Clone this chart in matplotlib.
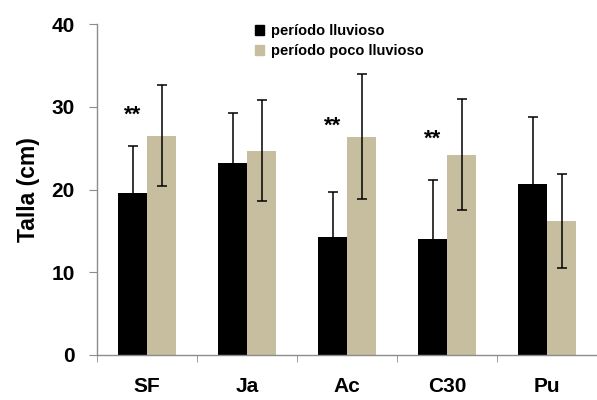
import numpy as np
import matplotlib
matplotlib.use("Agg")
import matplotlib.pyplot as plt
from matplotlib.patches import Patch

plt.rcParams['font.family'] = ['Liberation Sans', 'DejaVu Sans']

sitios = ["SF", "Ja", "Ac", "C30", "Pu"]
lluvioso = [19.6, 23.2, 14.3, 14.0, 20.7]
lluvioso_err = [5.6, 6.1, 5.4, 7.1, 8.1]
poco_lluvioso = [26.5, 24.7, 26.4, 24.2, 16.2]
poco_lluvioso_err = [6.1, 6.1, 7.6, 6.7, 5.7]
signif = ["**", "", "**", "**", ""]
signif_nivel = [29.0, 0, 27.7, 26.1, 0]

negro = "#000000"
beige = "#C6BE9F"
gris = "#8c8c8c"

fig = plt.figure(figsize=(5.97, 4.0), dpi=100)
ax = fig.add_axes([0.1625, 0.1125, 0.8375, 0.8275])

x = np.arange(len(sitios))
w = 0.29
err_kw = dict(ecolor="black", elinewidth=1.1, capsize=3.6, capthick=1.1)
ax.bar(x - w / 2, lluvioso, w, color=negro, yerr=lluvioso_err, error_kw=err_kw, zorder=2)
ax.bar(x + w / 2, poco_lluvioso, w, color=beige, yerr=poco_lluvioso_err, error_kw=err_kw, zorder=2)

# asteriscos sobre las barras negras
for i, s in enumerate(signif):
    if s:
        ax.text(x[i] - w / 2, signif_nivel[i], s,
                ha="center", va="center", fontsize=16, fontweight="bold")

ax.set_xlim(-0.5, len(sitios) - 0.5)
ax.set_ylim(0, 40)
ax.set_yticks([0, 10, 20, 30, 40])
ax.set_xticks(x)
ax.set_xticklabels(sitios, fontsize=15, fontweight="bold")
ax.set_xticks(np.arange(len(sitios) + 1) - 0.5, minor=True)
ax.tick_params(axis="x", which="major", length=0, pad=16)
ax.tick_params(axis="x", which="minor", length=5, color=gris, direction="out")
ax.tick_params(axis="y", length=6, color=gris, labelsize=15, pad=10)
for lab in ax.get_yticklabels():
    lab.set_fontweight("bold")

for sp in ["top", "right"]:
    ax.spines[sp].set_visible(False)
for sp in ["left", "bottom"]:
    ax.spines[sp].set_color(gris)
    ax.spines[sp].set_linewidth(1.0)

ax.set_ylabel("Talla (cm)", fontsize=16.5, fontweight="bold", labelpad=8)

handles = [Patch(color=negro), Patch(color=beige)]
ax.legend(handles, ["período lluvioso", "período poco lluvioso"],
          loc="upper left", bbox_to_anchor=(0.29, 1.04), frameon=False,
          handlelength=0.6, handleheight=0.7, handletextpad=0.5,
          labelspacing=0.45, prop=dict(weight="bold", size=10.5))

fig.savefig("out.png", dpi=100)
